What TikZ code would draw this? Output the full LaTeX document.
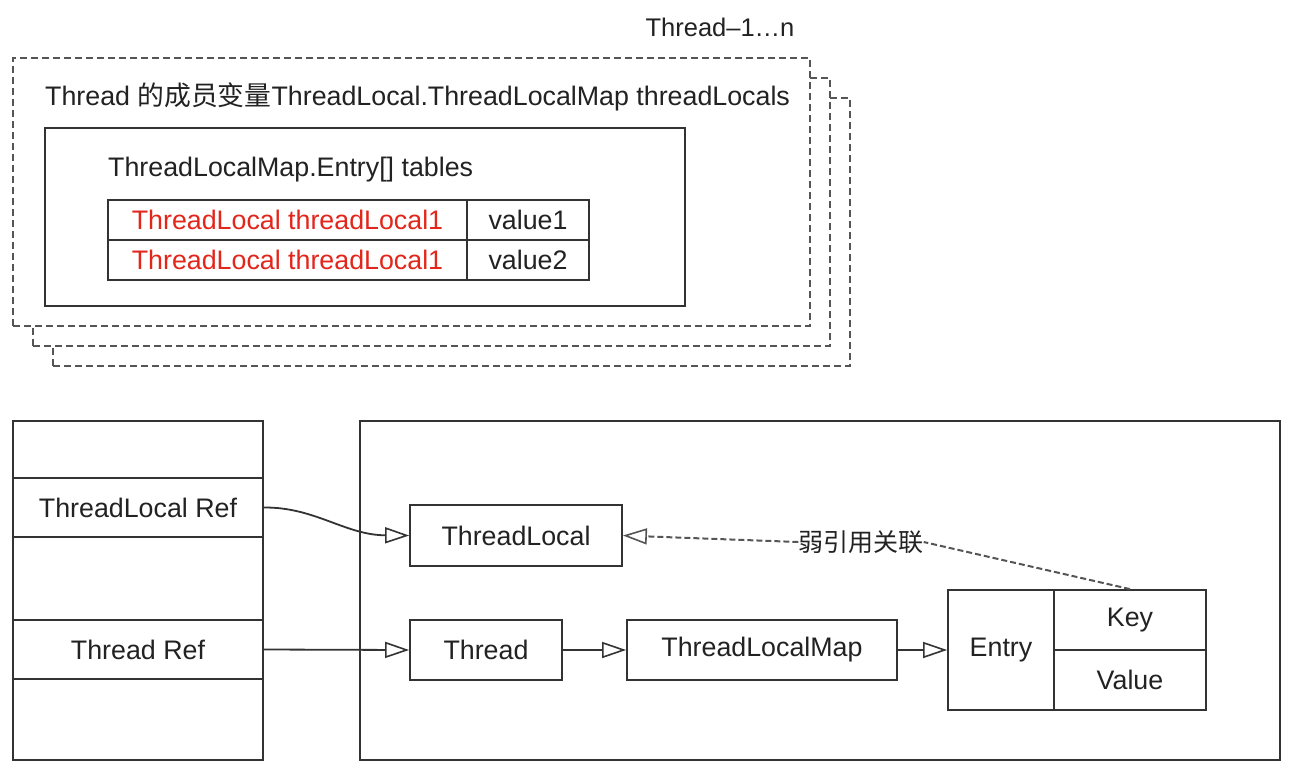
\documentclass[tikz,border=0pt]{standalone}
\usepackage{fontspec}
\setmainfont{Liberation Sans}
\newfontfamily\cjk{Noto Sans CJK SC}
\usetikzlibrary{arrows.meta}
\definecolor{lc}{HTML}{333333}
\definecolor{dc}{HTML}{555555}
\definecolor{tc}{HTML}{222222}
\definecolor{rc}{HTML}{E3261C}
\tikzset{
  fnt/.style={font=\fontsize{26.8}{30}\selectfont},
  bx/.style={draw=lc, line width=1.8pt, inner sep=0pt, text=tc, fnt},
  dbox/.style={draw=dc, line width=1.4pt, dash pattern=on 7pt off 4pt, fill=white, inner sep=0pt},
  lbl/.style={inner sep=0pt, text=tc, fnt},
  arr/.style={draw=lc, line width=1.8pt, -{Triangle[open, length=24pt, width=16pt, line width=1.6pt]}},
  darr/.style={draw=dc, line width=2pt, dash pattern=on 6pt off 3pt, -{Triangle[open, length=24pt, width=16pt, line width=1.6pt, sep=0pt]}},
  dln/.style={draw=dc, line width=2pt, dash pattern=on 6pt off 3pt},
}
\begin{document}
\begin{tikzpicture}[x=1pt,y=-1pt]
\useasboundingbox[fill=white] (0,0) rectangle (1294,772);
% top
\node[lbl, font=\fontsize{25.5}{30}\selectfont] (tn) at (720,27) {Thread–1…n};
\node[dbox, minimum width=797pt, minimum height=268pt] (d3) at (451.5,232) {};
\node[dbox, minimum width=797pt, minimum height=268pt] (d2) at (431.5,212) {};
\node[dbox, minimum width=797pt, minimum height=268pt] (d1) at (411.5,192) {};
\node[lbl, anchor=west] (title) at (45,97) {Thread {\cjk 的成员变量}ThreadLocal.ThreadLocalMap threadLocals};
\node[bx, minimum width=640pt, minimum height=178pt] (inner) at (365,217) {};
\node[lbl, anchor=west] (tables) at (108,170) {ThreadLocalMap.Entry[] tables};
\node[bx, minimum width=359pt, minimum height=40pt, text=rc] (c11) at (287.5,220) {ThreadLocal threadLocal1};
\node[bx, minimum width=122pt, minimum height=40pt] (c12) at (528,220) {value1};
\node[bx, minimum width=359pt, minimum height=40pt, text=rc] (c21) at (287.5,260) {ThreadLocal threadLocal1};
\node[bx, minimum width=122pt, minimum height=40pt] (c22) at (528,260) {value2};
% bottom left
\node[bx, minimum width=250pt, minimum height=339pt] (stack) at (138,590.5) {};
\node[bx, minimum width=250pt, minimum height=59pt] (tlref) at (138,507.5) {ThreadLocal Ref};
\node[bx, minimum width=250pt, minimum height=59pt] (thref) at (138,649.5) {Thread Ref};
% bottom right
\node[bx, minimum width=920pt, minimum height=339pt] (big) at (820,590.5) {};
\node[bx, minimum width=212pt, minimum height=61pt] (tl) at (516,535.5) {ThreadLocal};
\node[bx, minimum width=152pt, minimum height=60pt] (th) at (486,650) {Thread};
\node[bx, minimum width=270pt, minimum height=60pt] (tlm) at (762,650) {ThreadLocalMap};
\node[bx, minimum width=106pt, minimum height=120pt] (entry) at (1001,650) {Entry};
\node[bx, minimum width=152pt, minimum height=60pt] (key) at (1130,620) {Key};
\node[bx, minimum width=152pt, minimum height=60pt] (val) at (1130,680) {Value};
% connectors
\draw[arr] (tlref.east) .. controls (315,507) and (345,535) .. (tl.west);
\draw[arr] (thref.east) -- (th.west);
\draw[arr] (th.east) -- (tlm.west);
\draw[arr] (tlm.east) -- (entry.west);
\node[lbl, font=\fontsize{25}{30}\selectfont] (wk) at (861,542) {\cjk 弱引用关联};
\draw[dln] (key.north) -- (wk.east);
\draw[darr] (wk.west) -- (tl.east);
\end{tikzpicture}
\end{document}
